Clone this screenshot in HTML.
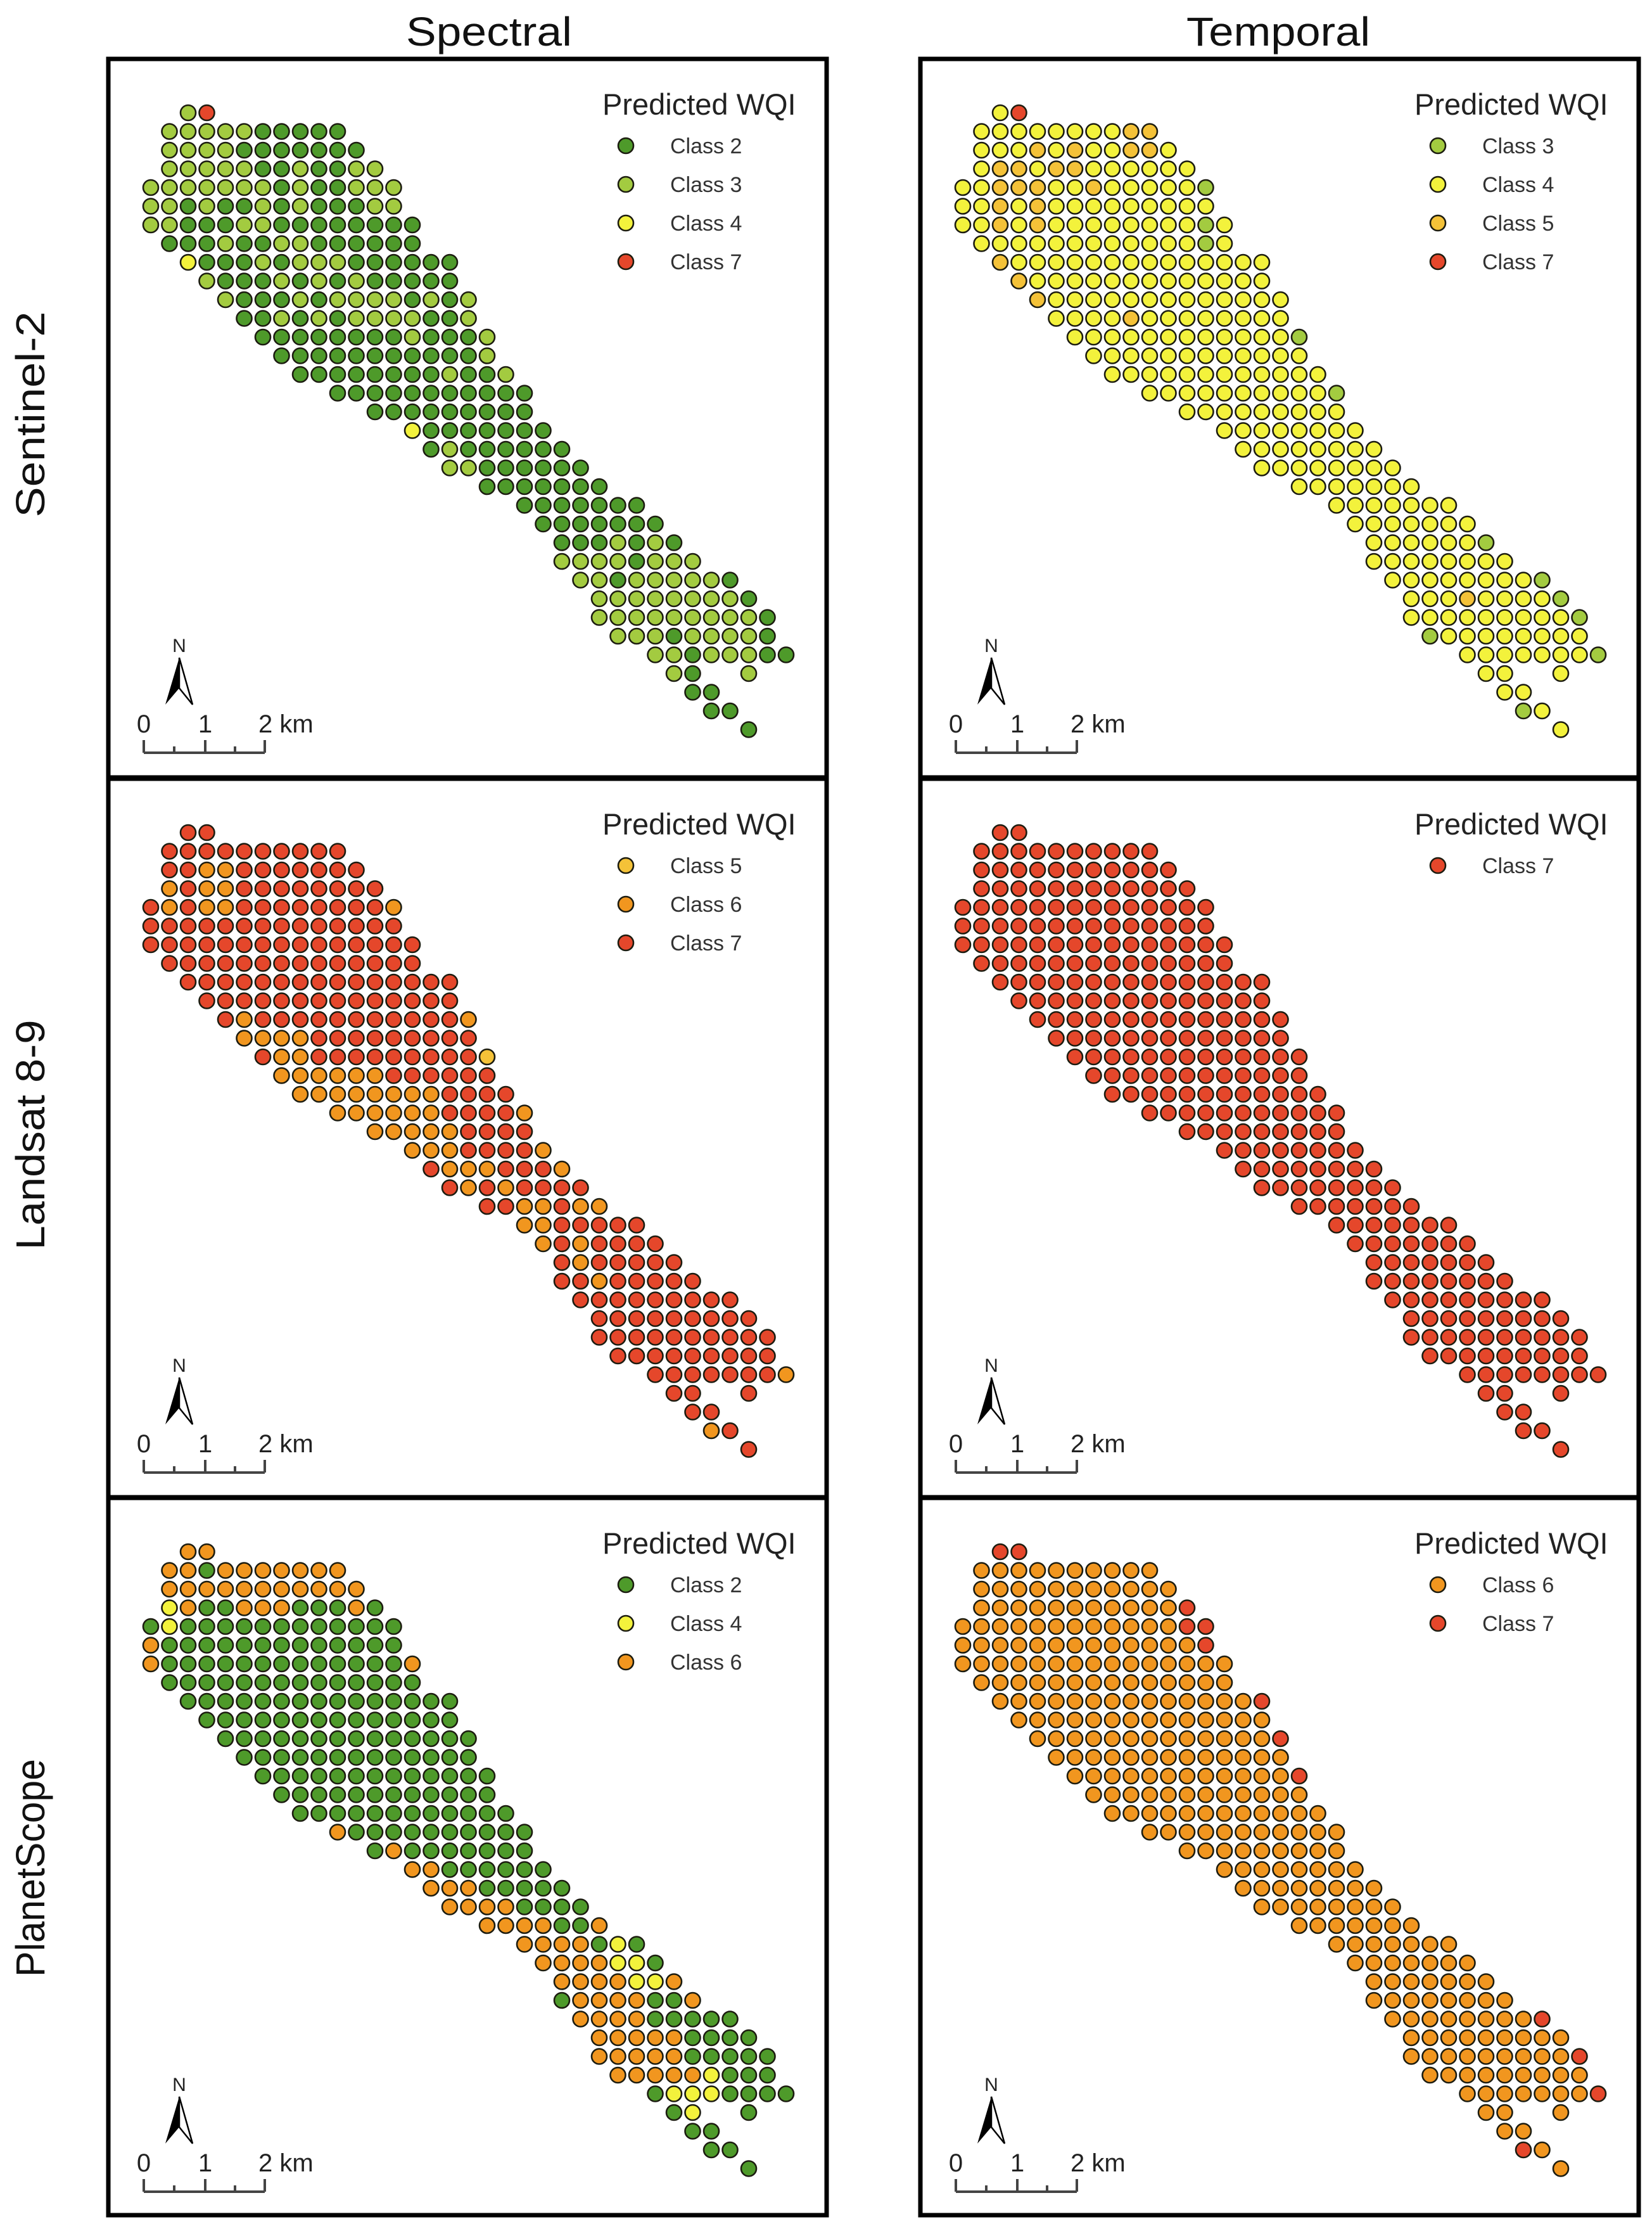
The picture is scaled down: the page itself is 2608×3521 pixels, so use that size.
<!DOCTYPE html>
<html><head><meta charset="utf-8"><style>
html,body{margin:0;padding:0;background:#fff;}
svg{display:block;}
text{font-family:"Liberation Sans",sans-serif;}
</style></head><body>
<svg id="fig" width="2608" height="3521" viewBox="0 0 2608 3521" xmlns="http://www.w3.org/2000/svg">
<rect x="0" y="0" width="2608" height="3521" fill="#fff"/>
<text x="772" y="72" font-size="64" text-anchor="middle" textLength="262" lengthAdjust="spacingAndGlyphs" fill="#111">Spectral</text>
<text x="2018" y="72" font-size="64" text-anchor="middle" textLength="290" lengthAdjust="spacingAndGlyphs" fill="#111">Temporal</text>
<text transform="translate(70,654) rotate(-90)" font-size="64" text-anchor="middle" textLength="325" lengthAdjust="spacingAndGlyphs" fill="#111">Sentinel-2</text>
<text transform="translate(70,1791) rotate(-90)" font-size="64" text-anchor="middle" textLength="363" lengthAdjust="spacingAndGlyphs" fill="#111">Landsat 8-9</text>
<text transform="translate(70,2948) rotate(-90)" font-size="64" text-anchor="middle" textLength="344" lengthAdjust="spacingAndGlyphs" fill="#111">PlanetScope</text>
<g id="panels"></g>
</svg>
<script>
// grid shape: per-row [startCol, endCol] (row 30 is special)
const rowRanges = [[2,3],[1,10],[1,11],[1,12],[0,13],[0,13],[0,14],[1,14],[2,16],[3,16],[4,17],[5,17],[6,18],[7,18],[8,19],[10,20],[12,20],[14,21],[15,22],[16,23],[18,24],[20,26],[21,27],[22,28],[22,29],[23,31],[24,32],[24,33],[25,33],[27,34],[28,32],[29,30],[30,31],[32,32]];
const row30Cols = [28,29,32];
const classColors = {2:"#4e9a2a",3:"#a3cb40",4:"#f3f23c",5:"#f4c238",6:"#f1961f",7:"#e5472b"};

const panelNames = ["sentinel2-spectral","sentinel2-temporal","landsat-spectral","landsat-temporal","planetscope-spectral","planetscope-temporal"];
const panelDefaults = [2,4,7,7,2,6];
const panelLegends = [[2,3,4,7],[3,4,5,7],[5,6,7],[7],[2,4,6],[6,7]];

const s2SpectralRows = {0:"37",1:"3333322222",2:"33332222222",3:"333332232233",4:"33333332322333",5:"33232232322233",6:"332223322222222",7:"22232233222222",8:"422232333222222",9:"32223232322222",10:"32223233332323",11:"2232323333223",12:"2222222232223",13:"222222222223",14:"222222223223",17:"42222222",18:"23222222",19:"33222222",23:"2223232",24:"33332333",25:"332333332",26:"333333332",27:"3333333332",28:"333233332",29:"33233322",30:"323"};
const s2TemporalRows = {0:"47",1:"4444444455",2:"44454544554",3:"455455444444",4:"44555445444443",5:"44545444444444",6:"445454444444434",7:"44444444444434",8:"544444444444444",9:"54444444444444",10:"54444444444444",11:"4444544444444",12:"4444444444443",15:"44444444443",23:"4444443",25:"444444443",26:"444544443",27:"4444444443",28:"344444444",29:"44444443",32:"34"};
const lsSpectralRows = {2:"77667777777",3:"676677777777",4:"76766777777776",10:"76777777777776",11:"6666777777777",12:"7667777777775",13:"666666777777",14:"666666667777",15:"66666677776",16:"666667777",17:"66677776",18:"76667776",19:"76767777",20:"7766766",21:"6677777",22:"6767777",23:"7677777",24:"77677777",29:"77777776",32:"67"};
const lsTemporalRows = {};
const psSpectralRows = {0:"66",1:"6626666666",2:"66666666666",3:"462266622262",4:"24222222222222",5:"62222222222222",6:"622222222222226",15:"62222222222",16:"262222222",17:"66222222",18:"66622222",19:"66662222",20:"6666226",21:"6666242",22:"6666442",23:"6666446",24:"26666226",25:"666622222",26:"666662222",27:"6666622222",28:"666664222",29:"24442222",30:"242"};
const psTemporalRows = {0:"77",3:"666666666667",4:"66666666666677",5:"66666666666667",8:"666666666666667",10:"66666666666667",12:"6666666666667",25:"666666667",27:"6666666667",29:"66666667",32:"76"};
const panelRows = [s2SpectralRows,s2TemporalRows,lsSpectralRows,lsTemporalRows,psSpectralRows,psTemporalRows];

const NS="http://www.w3.org/2000/svg";
const root=document.getElementById("panels");
const colX=[171,1453], rowY=[93,1229,2364], panelH=[1134,1134,1132], panelW=1134;
const gx0=67, gy0=85, step=29.5, R=12;
function mk(tag,attrs,parent){const e=document.createElementNS(NS,tag);for(const k in attrs)e.setAttribute(k,attrs[k]);parent.appendChild(e);return e;}
function colToX(c){return gx0+c*step;}
function rowToY(r){return gy0+r*step;}

for(let p=0;p<6;p++){
  const px=colX[p%2], py=rowY[Math.floor(p/2)], ph=panelH[Math.floor(p/2)];
  const g=mk("g",{transform:`translate(${px},${py})`},root);
  
  
  const frame=mk("rect",{x:0,y:0,width:panelW,height:ph,fill:"#fff",stroke:"#000","stroke-width":7},g);
  
  
  const rows=panelRows[p];
  for(let r=0;r<rowRanges.length;r++){
    const cols=[];
    if(r===30){cols.push(...row30Cols);} else {for(let c=rowRanges[r][0];c<=rowRanges[r][1];c++)cols.push(c);}
    const s=rows[r];
    cols.forEach((c,i)=>{
      const cls=s&&s[i]?+s[i]:panelDefaults[p];
      const d=mk("circle",{cx:colToX(c),cy:rowToY(r),r:R,fill:classColors[cls],stroke:"#1c1c10","stroke-width":2.6},g);
      
      
    });
  }
  // legend
  const lg=mk("g",{},g);
  
  
  const lt=mk("text",{x:780,y:88,"font-size":47,fill:"#222"},lg);
  lt.textContent="Predicted WQI";
  
  
  panelLegends[p].forEach((cls,i)=>{
    const y=137+i*61;
    const ld=mk("circle",{cx:817,cy:y,r:R,fill:classColors[cls],stroke:"#1c1c10","stroke-width":2.6},lg);
    
    
    const tx=mk("text",{x:887,y:y+12,"font-size":34,fill:"#333"},lg);
    tx.textContent="Class "+cls;
    
    
  });
  // north arrow
  const na=mk("g",{},g);
  
  
  const nt=mk("text",{x:112,y:936,"font-size":30,"text-anchor":"middle",fill:"#222"},na);
  nt.textContent="N";
  mk("path",{d:"M112,945 L90,1019 L112,993 Z",fill:"#000"},na);
  mk("path",{d:"M112,945 L133,1019 L112,993 Z",fill:"#fff",stroke:"#000","stroke-width":2.5},na);
  // scale bar
  const sb=mk("g",{},g);
  
  
  mk("path",{d:"M56,1095 L247,1095 M56,1075 L56,1095 M104,1085 L104,1095 M153,1075 L153,1095 M200,1085 L200,1095 M247,1075 L247,1095",stroke:"#444","stroke-width":4,fill:"none"},sb);
  [["0",56,"middle"],["1",153,"middle"],["2 km",237,"start"]].forEach(([t,x,a])=>{
    const e=mk("text",{x:x,y:1063,"font-size":40,"text-anchor":a,fill:"#222"},sb);
    e.textContent=t;
  });
}
</script>
</body></html>
